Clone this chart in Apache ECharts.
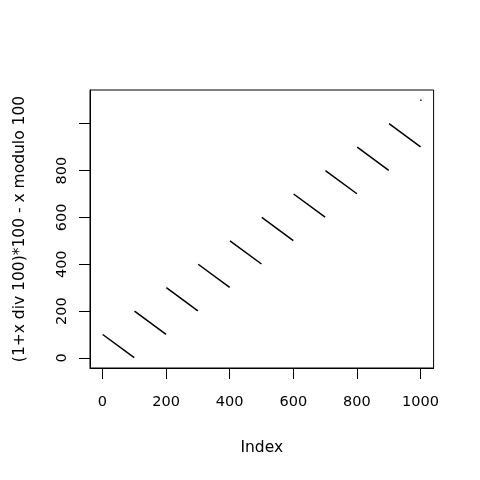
<!DOCTYPE html>
<html><head><meta charset="utf-8">
<script src="https://cdn.jsdelivr.net/npm/echarts@6/dist/echarts.min.js"></script>
<style>html,body{margin:0;padding:0;background:#fff}#c{width:480px;height:480px}</style>
</head><body><div id="c"></div>
<script>
// Segments: each runs from (start index, start value) to (end index, end value)
const segStartIndex = [1, 101, 201, 301, 401, 501, 601, 701, 801, 901];
const segStartValue = [100, 200, 300, 400, 500, 600, 700, 800, 900, 1000];
const segEndIndex   = [100, 200, 300, 400, 500, 600, 700, 800, 900, 1000];
const segEndValue   = [1, 101, 201, 301, 401, 501, 601, 701, 801, 901];
const lonePoint = [1001, 1100];
const xTicks = [0, 200, 400, 600, 800, 1000];
const yTicks = [0, 200, 400, 600, 800, 1000];
const yLabels = [0, 200, 400, 600, 800];

const lineData = [];
for (let k = 0; k < segStartIndex.length; k++) {
  lineData.push([segStartIndex[k], segStartValue[k]]);
  lineData.push([segEndIndex[k], segEndValue[k]]);
  lineData.push([segEndIndex[k], null]);
}

const font = 'DejaVu Sans';
const chart = echarts.init(document.getElementById('c'), null, {renderer: 'canvas'});
chart.setOption({
  animation: false,
  backgroundColor: '#fff',
  grid: {left: 90, right: 46.4, top: 90, bottom: 112, show: true, borderColor: '#000', borderWidth: 1, backgroundColor: 'transparent'},
  xAxis: {
    type: 'value', min: -39, max: 1041,
    name: 'Index', nameLocation: 'middle', nameGap: 72,
    nameTextStyle: {fontFamily: font, fontSize: 15.5, color: '#000'},
    axisLine: {show: true, onZero: false, lineStyle: {color: '#000', width: 1}},
    axisTick: {show: true, inside: false, length: 11, customValues: xTicks, lineStyle: {color: '#000', width: 1}},
    axisLabel: {show: true, customValues: xTicks, margin: 27, fontFamily: font, fontSize: 14.5, color: '#000',
      formatter: v => String(v)},
    splitLine: {show: false}
  },
  yAxis: {
    type: 'value', min: -43, max: 1144,
    name: '(1+x div 100)*100 - x modulo 100', nameLocation: 'middle', nameGap: 62,
    nameTextStyle: {fontFamily: font, fontSize: 15.5, color: '#000'},
    axisLine: {show: true, onZero: false, lineStyle: {color: '#000', width: 1}},
    axisTick: {show: true, inside: false, length: 11, customValues: yTicks, lineStyle: {color: '#000', width: 1}},
    axisLabel: {show: true, customValues: yLabels, rotate: 90, margin: 20, fontFamily: font, fontSize: 14.5, color: '#000',
      formatter: v => String(v)},
    splitLine: {show: false}
  },
  series: [
    {type: 'line', data: lineData, showSymbol: false, symbol: 'none', connectNulls: false,
     lineStyle: {color: '#000', width: 1.5}, silent: true},
    {type: 'scatter', data: [lonePoint], symbol: 'rect', symbolSize: 1.6, itemStyle: {color: '#000'}, silent: true}
  ]
});
</script></body></html>
